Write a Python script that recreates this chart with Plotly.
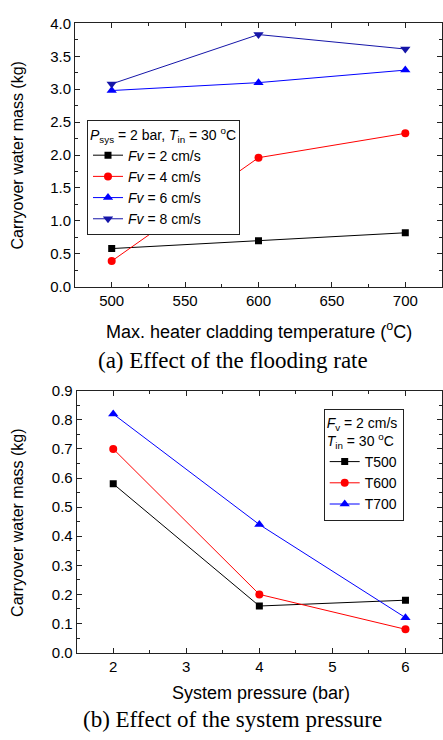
import plotly.graph_objects as go

# Panel (a)
temps = [500, 600, 700]
fv2 = [0.58, 0.70, 0.82]
fv4 = [0.39, 1.96, 2.33]
fv6 = [2.98, 3.10, 3.29]
fv8 = [3.08, 3.83, 3.61]

# Panel (b)
pressures = [2, 4, 6]
t500 = [0.58, 0.16, 0.18]
t600 = [0.70, 0.20, 0.08]
t700 = [0.82, 0.44, 0.12]

FONT = "Liberation Sans, Arial, sans-serif"
SERIF = "Liberation Serif, Times New Roman, serif"
W, H = 443, 740

fig = go.Figure()

def add(x, y, name, color, symbol, xa, ya, legend, msize=8):
    fig.add_trace(go.Scatter(
        x=x, y=y, name=name, mode="lines+markers",
        line=dict(color=color, width=1),
        marker=dict(symbol=symbol, color=color, size=msize),
        xaxis=xa, yaxis=ya, legend=legend))

add(temps, fv2, "<i>Fv</i> = 2 cm/s", "#000000", "square", "x", "y", "legend", 7)
add(temps, fv4, "<i>Fv</i> = 4 cm/s", "#ff0000", "circle", "x", "y", "legend")
add(temps, fv6, "<i>Fv</i> = 6 cm/s", "#0000ff", "triangle-up", "x", "y", "legend", 9)
add(temps, fv8, "<i>Fv</i> = 8 cm/s", "#1515a8", "triangle-down", "x", "y", "legend", 9)

add(pressures, t500, "T500", "#000000", "square", "x2", "y2", "legend2", 7)
add(pressures, t600, "T600", "#ff0000", "circle", "x2", "y2", "legend2")
add(pressures, t700, "T700", "#0000ff", "triangle-up", "x2", "y2", "legend2", 9)

def px_x(p):
    return p / W

def px_y(p):
    return 1 - p / H

axis_common = dict(
    showline=True, linecolor="#222222", linewidth=1, mirror="allticks",
    ticks="inside", ticklen=5, tickwidth=1, tickcolor="#222222",
    showgrid=False, zeroline=False,
    tickfont=dict(family=FONT, size=15, color="#000000"),
)

fig.update_layout(
    width=W, height=H,
    margin=dict(l=0, r=0, t=0, b=0),
    paper_bgcolor="white", plot_bgcolor="white",
    font=dict(family=FONT, color="#000000"),
    xaxis=dict(domain=[px_x(75), px_x(442)], range=[475, 725], dtick=50, tick0=500,
               minor=dict(ticks="inside", ticklen=3, dtick=25, tick0=500, tickcolor="#222222"),
               anchor="y", **axis_common),
    yaxis=dict(domain=[px_y(284.3), px_y(14.7)], range=[0, 4], dtick=0.5, tickformat=".1f",
               minor=dict(ticks="inside", ticklen=3, dtick=0.25, tickcolor="#222222"),
               anchor="x", **axis_common),
    xaxis2=dict(domain=[px_x(76.7), px_x(442)], range=[1.5, 6.5], dtick=1,
                minor=dict(ticks="inside", ticklen=3, dtick=0.5, tick0=1.5, tickcolor="#222222"),
                anchor="y2", **axis_common),
    yaxis2=dict(domain=[px_y(658.7), px_y(390.7)], range=[0, 0.9], dtick=0.1, tickformat=".1f",
                minor=dict(ticks="inside", ticklen=3, dtick=0.05, tickcolor="#222222"),
                anchor="x2", **axis_common),
    legend=dict(
        x=px_x(87), y=px_y(114), xanchor="left", yanchor="top",
        bgcolor="white", bordercolor="#222222", borderwidth=1,
        font=dict(family=FONT, size=14, color="#000000"),
        title=dict(text="<i>P</i><sub>sys</sub> = 2 bar, <i>T</i><sub>in</sub> = 30 <sup>o</sup>C",
                   font=dict(family=FONT, size=14, color="#000000")),
        tracegroupgap=0, itemwidth=30,
    ),
    legend2=dict(
        x=px_x(323.7), y=px_y(409), xanchor="left", yanchor="top",
        bgcolor="white", bordercolor="#222222", borderwidth=1,
        font=dict(family=FONT, size=14, color="#000000"),
        title=dict(text="<i>F</i><sub>v</sub> = 2 cm/s<br><i>T</i><sub>in</sub> = 30 <sup>o</sup>C",
                   font=dict(family=FONT, size=14, color="#000000")),
        tracegroupgap=0, itemwidth=30,
    ),
    showlegend=True,
)

ann = [
    dict(text="Max. heater cladding temperature (<sup>o</sup>C)", x=px_x(259), y=px_y(329),
         font=dict(family=FONT, size=18)),
    dict(text="Carryover water mass (kg)", x=px_x(18), y=px_y(150), textangle=-90,
         font=dict(family=FONT, size=16)),
    dict(text="(a) Effect of the flooding rate", x=px_x(233), y=px_y(360),
         font=dict(family=SERIF, size=23)),
    dict(text="System pressure (bar)", x=px_x(261), y=px_y(700),
         font=dict(family=FONT, size=18)),
    dict(text="Carryover water mass (kg)", x=px_x(18), y=px_y(526), textangle=-90,
         font=dict(family=FONT, size=16)),
    dict(text="(b) Effect of the system pressure", x=px_x(232), y=px_y(727),
         font=dict(family=SERIF, size=23)),
]
for a in ann:
    fig.add_annotation(xref="paper", yref="paper", showarrow=False,
                       xanchor="center", yanchor="middle", **a)

fig.write_html("out.html")
